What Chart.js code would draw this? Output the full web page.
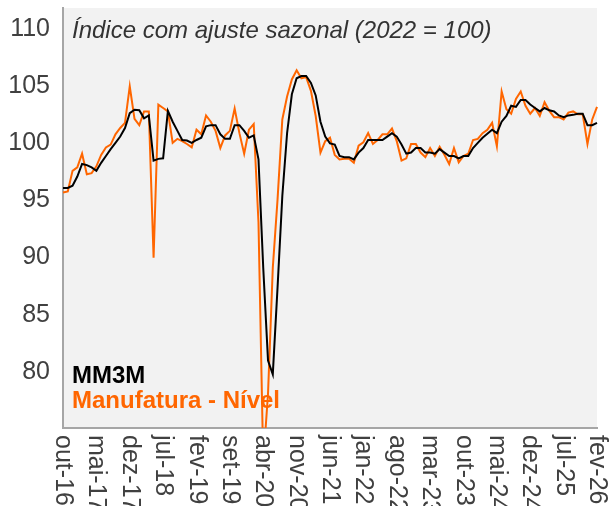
<!DOCTYPE html>
<html><head><meta charset="utf-8">
<script src="https://cdn.jsdelivr.net/npm/chart.js@4"></script>
<style>html,body{margin:0;padding:0;background:#fff}#wrap{width:612px;height:506px}</style>
</head><body><div id="wrap"><canvas id="c" width="612" height="506"></canvas></div>
<script>
// Month abbreviations (pt-BR) and series start: out-2016 .. fev-2026
const monthAbbr = ['jan','fev','mar','abr','mai','jun','jul','ago','set','out','nov','dez'];
const categories = [];
for (let i = 0; i < 113; i++) {
  const m = (9 + i) % 12;
  const y = 16 + Math.floor((9 + i) / 12);
  categories.push(monthAbbr[m] + '-' + y);
}
// Shown x tick labels (every 7th month)
const xTickLabels = ['out-16','mai-17','dez-17','jul-18','fev-19','set-19','abr-20','nov-20','jun-21','jan-22','ago-22','mar-23','out-23','mai-24','dez-24','jul-25','fev-26'];
const yTicks = [80, 85, 90, 95, 100, 105, 110];

// Manufatura - Nível (index, 2022 = 100, seasonally adjusted)
const nivel = [
  95.6, 95.7, 97.5, 97.8, 99.0, 97.2, 97.3, 97.9, 98.9, 99.55,
  99.8, 100.7, 101.25, 101.7, 104.9, 102.05, 101.5, 102.7, 102.7, 89.9,
  103.3, 103.0, 102.7, 99.95, 100.3, 100.1, 99.85, 99.55, 101.1, 100.7,
  102.35, 101.8, 101.0, 99.5, 100.6, 101.0, 102.95, 100.8, 99.0, 101.1,
  101.6, 93.0, 72.0, 78.0, 89.0, 95.0, 102.0, 104.0, 105.5, 106.3,
  105.6, 105.7, 104.5, 102.3, 99.1, 100.1, 100.4, 98.9, 98.5, 98.55,
  98.55, 98.2, 99.7, 100.0, 100.8, 99.85, 100.2, 100.7, 100.7, 101.2,
  100.1, 98.4, 98.6, 99.85, 99.85, 99.1, 98.7, 99.5, 98.8, 99.6,
  98.9, 98.1, 99.5, 98.25, 98.8, 99.0, 100.2, 100.3, 100.8, 101.1,
  101.7, 99.65, 104.45, 102.9, 102.5, 103.8, 104.45, 103.2, 102.5, 103.0,
  102.3, 103.5, 102.75, 102.2, 102.2, 102.0, 102.6, 102.7, 102.45, 102.45,
  99.85, 102.0, 103.1
];
// MM3M (3-month moving average)
const mm3m = [
  96.0, 96.0, 96.2, 97.0, 98.1, 98.0, 97.8, 97.5, 98.2, 98.8,
  99.4, 99.95, 100.5, 101.25, 102.55, 102.85, 102.8, 102.1, 102.35, 98.4,
  98.55, 98.6, 102.75, 101.8, 101.0, 100.2, 100.15, 99.95, 100.2, 100.4,
  101.4, 101.5, 101.5, 100.7, 100.3, 100.3, 101.5, 101.5, 101.0, 100.4,
  100.6, 98.5, 89.0, 80.9, 79.7, 87.3, 95.3, 100.8, 104.2, 105.6,
  105.8, 105.8, 105.2, 104.1, 101.8, 100.5, 99.9, 99.8, 98.8, 98.7,
  98.7, 98.5, 99.1, 99.5, 100.2, 100.2, 100.2, 100.2, 100.5, 100.8,
  100.5, 99.8, 99.0, 99.1, 99.5, 99.5, 99.1, 99.1, 99.0, 99.4,
  99.1, 98.8, 98.8, 98.6, 98.8, 98.8, 99.5, 99.95, 100.4, 100.75,
  101.1, 100.8, 101.8, 102.3, 103.2, 103.1, 103.7, 103.7, 103.3, 103.0,
  102.7, 103.0, 102.8, 102.7, 102.35, 102.2, 102.35, 102.4, 102.5, 102.5,
  101.5, 101.5, 101.7
];

const titleText = 'Índice com ajuste sazonal (2022 = 100)';
const legendItems = [
  {text: 'MM3M', color: '#000000'},
  {text: 'Manufatura - Nível', color: '#ff6600'}
];
const FONT = '"Liberation Sans", Arial, sans-serif';

const bgPlugin = {
  id: 'bg',
  beforeDraw(chart) {
    const a = chart.chartArea, c = chart.ctx;
    c.save();
    c.fillStyle = '#f2f2f2';
    c.fillRect(a.left, a.top, a.right - a.left, a.bottom - a.top);
    c.restore();
  }
};

const textPlugin = {
  id: 'texts',
  afterDatasetsDraw(chart) {
    const c = chart.ctx, a = chart.chartArea;
    c.save();
    c.font = 'italic 24px ' + FONT;
    c.fillStyle = '#333333';
    c.textAlign = 'left';
    c.textBaseline = 'alphabetic';
    c.fillText(titleText, a.left + 9, 38);
    c.font = 'bold 24px ' + FONT;
    legendItems.forEach((it, k) => {
      c.fillStyle = it.color;
      c.fillText(it.text, a.left + 9, 383 + k * 25);
    });
    c.restore();
  },
  afterDraw(chart) {
    const c = chart.ctx, xs = chart.scales.x, ys = chart.scales.y, a = chart.chartArea;
    c.save();
    c.font = '25px ' + FONT;
    c.fillStyle = '#404040';
    // x tick labels, rotated clockwise
    c.textAlign = 'left';
    c.textBaseline = 'middle';
    categories.forEach((lab, i) => {
      if (!xTickLabels.includes(lab)) return;
      const x = xs.getPixelForValue(i);
      c.save();
      c.translate(x, a.bottom + 7);
      c.rotate(Math.PI / 2);
      c.fillText(lab, 0, 0);
      c.restore();
    });
    // y tick labels
    c.textAlign = 'right';
    c.textBaseline = 'middle';
    ys.ticks.forEach(t => {
      c.fillText(String(t.value), a.left - 13, ys.getPixelForValue(t.value) + 1);
    });
    c.restore();
  }
};

new Chart(document.getElementById('c'), {
  type: 'line',
  data: {
    labels: categories,
    datasets: [
      {label: 'MM3M', data: mm3m, borderColor: '#000000', borderWidth: 2, pointRadius: 0, tension: 0, fill: false, order: 0},
      {label: 'Manufatura - Nível', data: nivel, borderColor: '#ff6600', borderWidth: 2, pointRadius: 0, tension: 0, fill: false, order: 1}
    ]
  },
  options: {
    responsive: false,
    animation: false,
    devicePixelRatio: 1,
    layout: {padding: {top: 8, right: 15, bottom: 78, left: 0}},
    plugins: {legend: {display: false}, tooltip: {enabled: false}, title: {display: false}},
    scales: {
      x: {
        offset: false,
        grid: {display: false, drawTicks: false},
        border: {display: true, color: '#a6a6a6', width: 2},
        ticks: {display: false, autoSkip: false}
      },
      y: {
        min: 75, max: 111.75,
        afterFit(s) { s.width = 63; },
        afterBuildTicks(s) { s.ticks = yTicks.map(v => ({value: v})); },
        grid: {display: false, drawTicks: false},
        border: {display: true, color: '#a6a6a6', width: 2},
        ticks: {display: false}
      }
    }
  },
  plugins: [bgPlugin, textPlugin]
});
</script>
</body></html>
